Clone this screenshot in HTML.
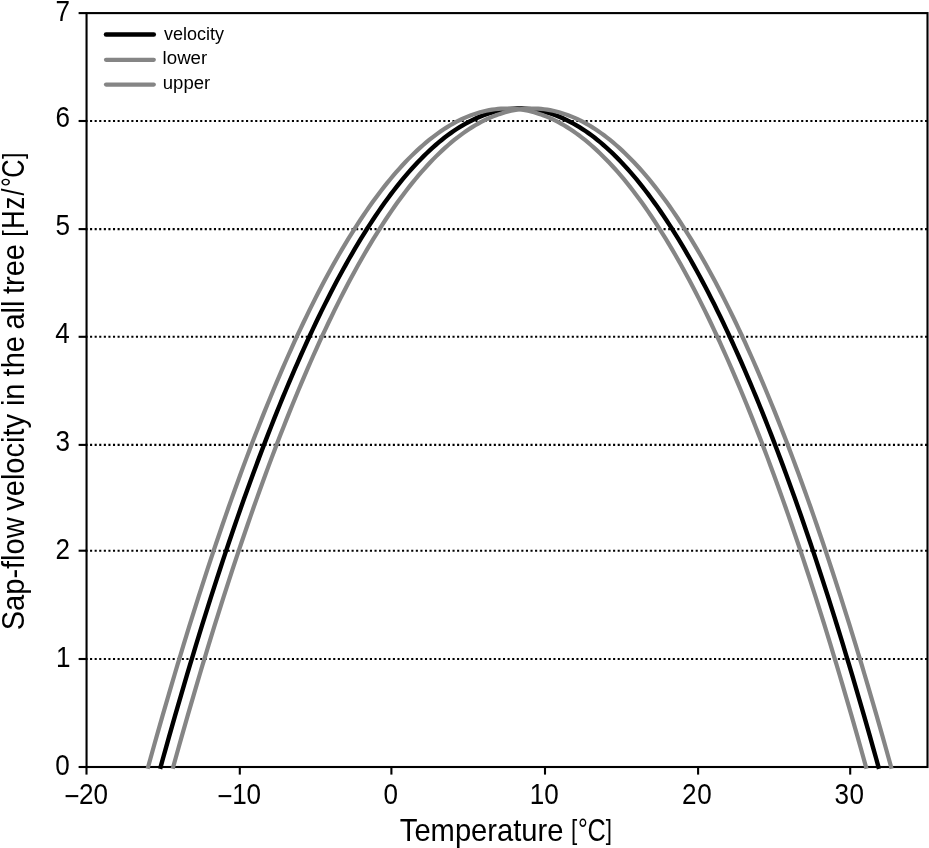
<!DOCTYPE html>
<html lang="en"><head><meta charset="utf-8"><title>Sap-flow velocity vs temperature</title>
<style>html,body{margin:0;padding:0;background:#fff}body{width:929px;height:848px;overflow:hidden}svg{display:block}text{font-family:"Liberation Sans",sans-serif;fill:#000}</style></head><body>
<svg width="929" height="848" viewBox="0 0 929 848">
<rect width="929" height="848" fill="#fff"/>
<g stroke="#000" stroke-width="2.1" stroke-dasharray="2.1 2.488" fill="none">
<line x1="85.45" y1="659.0" x2="927.5" y2="659.0"/>
<line x1="85.45" y1="550.7" x2="927.5" y2="550.7"/>
<line x1="85.45" y1="444.9" x2="927.5" y2="444.9"/>
<line x1="85.45" y1="336.8" x2="927.5" y2="336.8"/>
<line x1="85.45" y1="229.1" x2="927.5" y2="229.1"/>
<line x1="85.45" y1="121.0" x2="927.5" y2="121.0"/>
</g>
<g stroke="#000" stroke-width="2.1" fill="none" stroke-linecap="butt">
<rect x="86.55" y="13.10" width="840.95" height="753.90"/>
<line x1="78.6" y1="767.0" x2="86.55" y2="767.0"/>
<line x1="78.6" y1="659.0" x2="86.55" y2="659.0"/>
<line x1="78.6" y1="550.7" x2="86.55" y2="550.7"/>
<line x1="78.6" y1="444.9" x2="86.55" y2="444.9"/>
<line x1="78.6" y1="336.8" x2="86.55" y2="336.8"/>
<line x1="78.6" y1="229.1" x2="86.55" y2="229.1"/>
<line x1="78.6" y1="121.0" x2="86.55" y2="121.0"/>
<line x1="78.6" y1="13.1" x2="86.55" y2="13.1"/>
<line x1="86.5" y1="767.0" x2="86.5" y2="774.6"/>
<line x1="239.8" y1="767.0" x2="239.8" y2="774.6"/>
<line x1="391.4" y1="767.0" x2="391.4" y2="774.6"/>
<line x1="545.0" y1="767.0" x2="545.0" y2="774.6"/>
<line x1="698.1" y1="767.0" x2="698.1" y2="774.6"/>
<line x1="850.2" y1="767.0" x2="850.2" y2="774.6"/>
</g>
<g fill="none" stroke-linejoin="round">
<path stroke="#000" stroke-width="4.4" d="M160.10 768.80 L163.09 758.01 L166.09 747.30 L169.08 736.68 L172.08 726.14 L175.08 715.69 L178.07 705.32 L181.07 695.04 L184.06 684.85 L187.06 674.74 L190.05 664.71 L193.05 654.77 L196.04 644.92 L199.04 635.15 L202.03 625.47 L205.03 615.88 L208.03 606.37 L211.02 596.95 L214.02 587.62 L217.01 578.38 L220.01 569.22 L223.00 560.14 L226.00 551.16 L228.99 542.26 L231.99 533.45 L234.98 524.73 L237.98 516.10 L240.98 507.55 L243.97 499.09 L246.97 490.72 L249.96 482.44 L252.96 474.25 L255.95 466.14 L258.95 458.13 L261.94 450.20 L264.94 442.36 L267.93 434.61 L270.93 426.95 L273.92 419.37 L276.92 411.89 L279.92 404.50 L282.91 397.19 L285.91 389.98 L288.90 382.85 L291.90 375.82 L294.89 368.87 L297.89 362.01 L300.88 355.25 L303.88 348.57 L306.87 341.98 L309.87 335.49 L312.87 329.08 L315.86 322.76 L318.86 316.54 L321.85 310.40 L324.85 304.36 L327.84 298.40 L330.84 292.54 L333.83 286.77 L336.83 281.09 L339.82 275.50 L342.82 270.00 L345.82 264.59 L348.81 259.27 L351.81 254.04 L354.80 248.91 L357.80 243.87 L360.79 238.91 L363.79 234.05 L366.78 229.28 L369.78 224.61 L372.77 220.02 L375.77 215.53 L378.76 211.12 L381.76 206.81 L384.76 202.59 L387.75 198.47 L390.75 194.43 L393.74 190.49 L396.74 186.64 L399.73 182.88 L402.73 179.21 L405.72 175.64 L408.72 172.16 L411.71 168.77 L414.71 165.47 L417.71 162.26 L420.70 159.15 L423.70 156.13 L426.69 153.20 L429.69 150.37 L432.68 147.63 L435.68 144.98 L438.67 142.42 L441.67 139.96 L444.66 137.58 L447.66 135.31 L450.66 133.12 L453.65 131.03 L456.65 129.03 L459.64 127.12 L462.64 125.30 L465.63 123.58 L468.63 121.95 L471.62 120.42 L474.62 118.97 L477.61 117.63 L480.61 116.37 L483.60 115.20 L486.60 114.13 L489.60 113.16 L492.59 112.27 L495.59 111.48 L498.58 110.78 L501.58 110.18 L504.57 109.66 L507.57 109.25 L510.56 108.92 L513.56 108.69 L516.55 108.55 L519.55 108.50 L522.55 108.55 L525.54 108.69 L528.54 108.92 L531.53 109.25 L534.53 109.66 L537.52 110.18 L540.52 110.78 L543.51 111.48 L546.51 112.27 L549.50 113.16 L552.50 114.13 L555.50 115.20 L558.49 116.37 L561.49 117.63 L564.48 118.97 L567.48 120.42 L570.47 121.95 L573.47 123.58 L576.46 125.30 L579.46 127.12 L582.45 129.03 L585.45 131.03 L588.44 133.12 L591.44 135.31 L594.44 137.58 L597.43 139.96 L600.43 142.42 L603.42 144.98 L606.42 147.63 L609.41 150.37 L612.41 153.20 L615.40 156.13 L618.40 159.15 L621.39 162.26 L624.39 165.47 L627.39 168.77 L630.38 172.16 L633.38 175.64 L636.37 179.21 L639.37 182.88 L642.36 186.64 L645.36 190.49 L648.35 194.43 L651.35 198.47 L654.34 202.59 L657.34 206.81 L660.34 211.12 L663.33 215.53 L666.33 220.02 L669.32 224.61 L672.32 229.28 L675.31 234.05 L678.31 238.91 L681.30 243.87 L684.30 248.91 L687.29 254.04 L690.29 259.27 L693.28 264.59 L696.28 270.00 L699.28 275.50 L702.27 281.09 L705.27 286.77 L708.26 292.54 L711.26 298.40 L714.25 304.36 L717.25 310.40 L720.24 316.54 L723.24 322.76 L726.23 329.08 L729.23 335.49 L732.23 341.98 L735.22 348.57 L738.22 355.25 L741.21 362.01 L744.21 368.87 L747.20 375.82 L750.20 382.85 L753.19 389.98 L756.19 397.19 L759.18 404.50 L762.18 411.89 L765.18 419.37 L768.17 426.95 L771.17 434.61 L774.16 442.36 L777.16 450.20 L780.15 458.13 L783.15 466.14 L786.14 474.25 L789.14 482.44 L792.13 490.72 L795.13 499.09 L798.12 507.55 L801.12 516.10 L804.12 524.73 L807.11 533.45 L810.11 542.26 L813.10 551.16 L816.10 560.14 L819.09 569.22 L822.09 578.38 L825.08 587.62 L828.08 596.95 L831.07 606.37 L834.07 615.88 L837.07 625.47 L840.06 635.15 L843.06 644.92 L846.05 654.77 L849.05 664.71 L852.04 674.74 L855.04 684.85 L858.03 695.04 L861.03 705.32 L864.02 715.69 L867.02 726.14 L870.02 736.68 L873.01 747.30 L876.01 758.01 L879.00 768.80"/>
<path stroke="#858585" stroke-width="4.2" d="M147.60 768.80 L150.59 758.01 L153.59 747.30 L156.58 736.68 L159.58 726.14 L162.58 715.69 L165.57 705.32 L168.57 695.04 L171.56 684.85 L174.56 674.74 L177.55 664.71 L180.55 654.77 L183.54 644.92 L186.54 635.15 L189.53 625.47 L192.53 615.88 L195.53 606.37 L198.52 596.95 L201.52 587.62 L204.51 578.38 L207.51 569.22 L210.50 560.14 L213.50 551.16 L216.49 542.26 L219.49 533.45 L222.48 524.73 L225.48 516.10 L228.48 507.55 L231.47 499.09 L234.47 490.72 L237.46 482.44 L240.46 474.25 L243.45 466.14 L246.45 458.13 L249.44 450.20 L252.44 442.36 L255.43 434.61 L258.43 426.95 L261.42 419.37 L264.42 411.89 L267.42 404.50 L270.41 397.19 L273.41 389.98 L276.40 382.85 L279.40 375.82 L282.39 368.87 L285.39 362.01 L288.38 355.25 L291.38 348.57 L294.37 341.98 L297.37 335.49 L300.37 329.08 L303.36 322.76 L306.36 316.54 L309.35 310.40 L312.35 304.36 L315.34 298.40 L318.34 292.54 L321.33 286.77 L324.33 281.09 L327.32 275.50 L330.32 270.00 L333.32 264.59 L336.31 259.27 L339.31 254.04 L342.30 248.91 L345.30 243.87 L348.29 238.91 L351.29 234.05 L354.28 229.28 L357.28 224.61 L360.27 220.02 L363.27 215.53 L366.26 211.12 L369.26 206.81 L372.26 202.59 L375.25 198.47 L378.25 194.43 L381.24 190.49 L384.24 186.64 L387.23 182.88 L390.23 179.21 L393.22 175.64 L396.22 172.16 L399.21 168.77 L402.21 165.47 L405.21 162.26 L408.20 159.15 L411.20 156.13 L414.19 153.20 L417.19 150.37 L420.18 147.63 L423.18 144.98 L426.17 142.42 L429.17 139.96 L432.16 137.58 L435.16 135.31 L438.16 133.12 L441.15 131.03 L444.15 129.03 L447.14 127.12 L450.14 125.30 L453.13 123.58 L456.13 121.95 L459.12 120.42 L462.12 118.97 L465.11 117.63 L468.11 116.37 L471.10 115.20 L474.10 114.13 L477.10 113.16 L480.09 112.27 L483.09 111.48 L486.08 110.78 L489.08 110.18 L492.07 109.66 L495.07 109.25 L498.06 108.92 L501.06 108.69 L504.05 108.55 L507.05 108.50 L510.05 108.55 L513.04 108.69 L516.04 108.92 L519.03 109.25 L522.03 109.66 L525.02 110.18 L528.02 110.78 L531.01 111.48 L534.01 112.27 L537.00 113.16 L540.00 114.13 L543.00 115.20 L545.99 116.37 L548.99 117.63 L551.98 118.97 L554.98 120.42 L557.97 121.95 L560.97 123.58 L563.96 125.30 L566.96 127.12 L569.95 129.03 L572.95 131.03 L575.94 133.12 L578.94 135.31 L581.94 137.58 L584.93 139.96 L587.93 142.42 L590.92 144.98 L593.92 147.63 L596.91 150.37 L599.91 153.20 L602.90 156.13 L605.90 159.15 L608.89 162.26 L611.89 165.47 L614.89 168.77 L617.88 172.16 L620.88 175.64 L623.87 179.21 L626.87 182.88 L629.86 186.64 L632.86 190.49 L635.85 194.43 L638.85 198.47 L641.84 202.59 L644.84 206.81 L647.84 211.12 L650.83 215.53 L653.83 220.02 L656.82 224.61 L659.82 229.28 L662.81 234.05 L665.81 238.91 L668.80 243.87 L671.80 248.91 L674.79 254.04 L677.79 259.27 L680.78 264.59 L683.78 270.00 L686.78 275.50 L689.77 281.09 L692.77 286.77 L695.76 292.54 L698.76 298.40 L701.75 304.36 L704.75 310.40 L707.74 316.54 L710.74 322.76 L713.73 329.08 L716.73 335.49 L719.73 341.98 L722.72 348.57 L725.72 355.25 L728.71 362.01 L731.71 368.87 L734.70 375.82 L737.70 382.85 L740.69 389.98 L743.69 397.19 L746.68 404.50 L749.68 411.89 L752.68 419.37 L755.67 426.95 L758.67 434.61 L761.66 442.36 L764.66 450.20 L767.65 458.13 L770.65 466.14 L773.64 474.25 L776.64 482.44 L779.63 490.72 L782.63 499.09 L785.62 507.55 L788.62 516.10 L791.62 524.73 L794.61 533.45 L797.61 542.26 L800.60 551.16 L803.60 560.14 L806.59 569.22 L809.59 578.38 L812.58 587.62 L815.58 596.95 L818.57 606.37 L821.57 615.88 L824.57 625.47 L827.56 635.15 L830.56 644.92 L833.55 654.77 L836.55 664.71 L839.54 674.74 L842.54 684.85 L845.53 695.04 L848.53 705.32 L851.52 715.69 L854.52 726.14 L857.52 736.68 L860.51 747.30 L863.51 758.01 L866.50 768.80"/>
<path stroke="#858585" stroke-width="4.2" d="M172.70 768.80 L175.69 758.01 L178.69 747.30 L181.68 736.68 L184.68 726.14 L187.68 715.69 L190.67 705.32 L193.67 695.04 L196.66 684.85 L199.66 674.74 L202.65 664.71 L205.65 654.77 L208.64 644.92 L211.64 635.15 L214.63 625.47 L217.63 615.88 L220.63 606.37 L223.62 596.95 L226.62 587.62 L229.61 578.38 L232.61 569.22 L235.60 560.14 L238.60 551.16 L241.59 542.26 L244.59 533.45 L247.58 524.73 L250.58 516.10 L253.58 507.55 L256.57 499.09 L259.57 490.72 L262.56 482.44 L265.56 474.25 L268.55 466.14 L271.55 458.13 L274.54 450.20 L277.54 442.36 L280.53 434.61 L283.53 426.95 L286.52 419.37 L289.52 411.89 L292.52 404.50 L295.51 397.19 L298.51 389.98 L301.50 382.85 L304.50 375.82 L307.49 368.87 L310.49 362.01 L313.48 355.25 L316.48 348.57 L319.47 341.98 L322.47 335.49 L325.47 329.08 L328.46 322.76 L331.46 316.54 L334.45 310.40 L337.45 304.36 L340.44 298.40 L343.44 292.54 L346.43 286.77 L349.43 281.09 L352.42 275.50 L355.42 270.00 L358.42 264.59 L361.41 259.27 L364.41 254.04 L367.40 248.91 L370.40 243.87 L373.39 238.91 L376.39 234.05 L379.38 229.28 L382.38 224.61 L385.37 220.02 L388.37 215.53 L391.36 211.12 L394.36 206.81 L397.36 202.59 L400.35 198.47 L403.35 194.43 L406.34 190.49 L409.34 186.64 L412.33 182.88 L415.33 179.21 L418.32 175.64 L421.32 172.16 L424.31 168.77 L427.31 165.47 L430.31 162.26 L433.30 159.15 L436.30 156.13 L439.29 153.20 L442.29 150.37 L445.28 147.63 L448.28 144.98 L451.27 142.42 L454.27 139.96 L457.26 137.58 L460.26 135.31 L463.26 133.12 L466.25 131.03 L469.25 129.03 L472.24 127.12 L475.24 125.30 L478.23 123.58 L481.23 121.95 L484.22 120.42 L487.22 118.97 L490.21 117.63 L493.21 116.37 L496.20 115.20 L499.20 114.13 L502.20 113.16 L505.19 112.27 L508.19 111.48 L511.18 110.78 L514.18 110.18 L517.17 109.66 L520.17 109.25 L523.16 108.92 L526.16 108.69 L529.15 108.55 L532.15 108.50 L535.15 108.55 L538.14 108.69 L541.14 108.92 L544.13 109.25 L547.13 109.66 L550.12 110.18 L553.12 110.78 L556.11 111.48 L559.11 112.27 L562.10 113.16 L565.10 114.13 L568.10 115.20 L571.09 116.37 L574.09 117.63 L577.08 118.97 L580.08 120.42 L583.07 121.95 L586.07 123.58 L589.06 125.30 L592.06 127.12 L595.05 129.03 L598.05 131.03 L601.04 133.12 L604.04 135.31 L607.04 137.58 L610.03 139.96 L613.03 142.42 L616.02 144.98 L619.02 147.63 L622.01 150.37 L625.01 153.20 L628.00 156.13 L631.00 159.15 L633.99 162.26 L636.99 165.47 L639.99 168.77 L642.98 172.16 L645.98 175.64 L648.97 179.21 L651.97 182.88 L654.96 186.64 L657.96 190.49 L660.95 194.43 L663.95 198.47 L666.94 202.59 L669.94 206.81 L672.94 211.12 L675.93 215.53 L678.93 220.02 L681.92 224.61 L684.92 229.28 L687.91 234.05 L690.91 238.91 L693.90 243.87 L696.90 248.91 L699.89 254.04 L702.89 259.27 L705.88 264.59 L708.88 270.00 L711.88 275.50 L714.87 281.09 L717.87 286.77 L720.86 292.54 L723.86 298.40 L726.85 304.36 L729.85 310.40 L732.84 316.54 L735.84 322.76 L738.83 329.08 L741.83 335.49 L744.83 341.98 L747.82 348.57 L750.82 355.25 L753.81 362.01 L756.81 368.87 L759.80 375.82 L762.80 382.85 L765.79 389.98 L768.79 397.19 L771.78 404.50 L774.78 411.89 L777.78 419.37 L780.77 426.95 L783.77 434.61 L786.76 442.36 L789.76 450.20 L792.75 458.13 L795.75 466.14 L798.74 474.25 L801.74 482.44 L804.73 490.72 L807.73 499.09 L810.72 507.55 L813.72 516.10 L816.72 524.73 L819.71 533.45 L822.71 542.26 L825.70 551.16 L828.70 560.14 L831.69 569.22 L834.69 578.38 L837.68 587.62 L840.68 596.95 L843.67 606.37 L846.67 615.88 L849.67 625.47 L852.66 635.15 L855.66 644.92 L858.65 654.77 L861.65 664.71 L864.64 674.74 L867.64 684.85 L870.63 695.04 L873.63 705.32 L876.62 715.69 L879.62 726.14 L882.62 736.68 L885.61 747.30 L888.61 758.01 L891.60 768.80"/>
</g>
<g fill="none" stroke-linecap="round">
<line x1="106" y1="34.6" x2="153.8" y2="34.6" stroke="#000" stroke-width="4.5"/>
<line x1="106" y1="59.8" x2="153.8" y2="59.8" stroke="#858585" stroke-width="4.2"/>
<line x1="106" y1="84.6" x2="153.8" y2="84.6" stroke="#858585" stroke-width="4.2"/>
</g>
<g font-size="19.1">
<text transform="translate(163.91 39.60) scale(0.9434 1)">velocity</text>
<text transform="translate(162.58 64.30) scale(0.9790 1)">lower</text>
<text transform="translate(162.79 89.00) scale(0.9710 1)">upper</text>
</g>
<g font-size="29.6">
<text transform="translate(0 21.10) scale(0.8800 1)" x="63.12" y="0">7</text>
<text transform="translate(0 127.20) scale(0.8800 1)" x="62.97" y="0">6</text>
<text transform="translate(0 235.10) scale(0.8800 1)" x="62.99" y="0">5</text>
<text transform="translate(0 342.60) scale(0.8800 1)" x="62.83" y="0">4</text>
<text transform="translate(0 450.60) scale(0.8800 1)" x="63.11" y="0">3</text>
<text transform="translate(0 558.70) scale(0.8800 1)" x="63.13" y="0">2</text>
<text transform="translate(0 666.50) scale(0.8800 1)" x="63.63" y="0">1</text>
<text transform="translate(0 774.50) scale(0.8800 1)" x="62.91" y="0">0</text>
<text transform="translate(0 804.00) scale(0.8800 1)" x="73.11 89.67 106.20" y="2.10 0.00 0.00">−20</text>
<text transform="translate(0 804.00) scale(0.8800 1)" x="246.86 263.86 280.06" y="2.10 0.00 0.00">−10</text>
<text transform="translate(0 804.00) scale(0.8800 1)" x="435.86" y="0">0</text>
<text transform="translate(0 804.00) scale(0.8800 1)" x="602.04 618.47" y="0">10</text>
<text transform="translate(0 804.00) scale(0.8800 1)" x="774.89 792.34" y="0">20</text>
<text transform="translate(0 804.00) scale(0.8800 1)" x="948.45 965.41" y="0">30</text>
</g>
<g font-size="31.6">
<text transform="translate(399.82 841.40) scale(0.9231 1)">Temperature</text>
<text transform="translate(0.00 841.40) scale(0.8000 1)"><tspan font-size="28" x="713.60" y="-2.00">[</tspan><tspan font-size="30.6" x="722.51" y="-1.80">°</tspan><tspan x="734.26" y="0.00">C</tspan><tspan font-size="28" x="757.31" y="-2.00">]</tspan></text>
<g transform="translate(24.3 626.5) rotate(-90)">
<text transform="scale(0.9188 1)"><tspan x="-4.08" y="0">Sap-flow</tspan> <tspan x="125.99" y="0">velocity</tspan> <tspan x="239.87" y="0">in</tspan> <tspan x="272.20" y="0">the</tspan> <tspan x="323.23" y="0">all</tspan> <tspan x="361.89" y="0">tree</tspan></text>
<text transform="translate(0.00 0.00) scale(0.8000 1)"><tspan font-size="28" x="487.60" y="-2.00">[</tspan><tspan x="497.21 521.18 538.61" y="0.00 0.00 0.00">Hz/</tspan><tspan font-size="30.6" x="549.39" y="-1.80">°</tspan><tspan x="561.01" y="0.00">C</tspan><tspan font-size="28" x="584.25" y="-2.00">]</tspan></text>
</g>
</g>
</svg></body></html>
